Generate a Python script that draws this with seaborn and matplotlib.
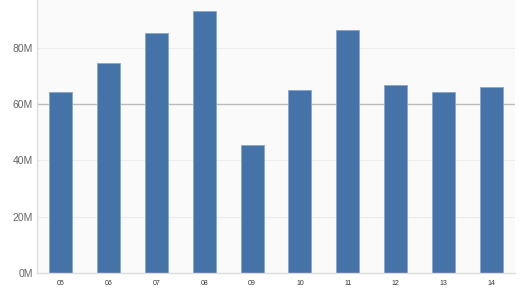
import matplotlib
matplotlib.use("Agg")
import matplotlib.pyplot as plt
import seaborn as sns
import pandas as pd
from matplotlib.ticker import FuncFormatter

categories = ["05", "06", "07", "08", "09", "10", "11", "12", "13", "14"]
values = [64.4, 74.5, 85.2, 93.1, 45.4, 65.0, 86.3, 66.7, 64.4, 66.1]  # millions
y_ticks = [0, 20, 40, 60, 80]

df = pd.DataFrame({"cat": categories, "val": [v * 1e6 for v in values]})

sns.set_theme(style="white")
plt.rcParams['font.family'] = ['Liberation Sans', 'DejaVu Sans']

fig = plt.figure(figsize=(5.2, 2.9), dpi=100)
ax = fig.add_axes([37/520, 17/290, 478/520, 273/290])
ax.set_facecolor("#fafafa")

for t in y_ticks:
    if t != 60:
        ax.axhline(t * 1e6, color="#ececec", lw=0.8, zorder=0)
ax.axhline(60e6, color="#bbbbbb", lw=1.0, zorder=0.5)

sns.barplot(data=df, x="cat", y="val", color="#4572a7", saturation=1,
            width=0.48, edgecolor="#8aa5c9", linewidth=0.6, ax=ax, zorder=2)

ax.set_ylim(0, 97e6)
ax.set_xlim(-0.5, 9.5)
ax.set_yticks([t * 1e6 for t in y_ticks])
ax.yaxis.set_major_formatter(FuncFormatter(lambda v, p: f"{int(round(v/1e6))}M"))
ax.set_xlabel("")
ax.set_ylabel("")
ax.tick_params(axis="y", labelsize=7.5, colors="#666666", length=0, pad=3)
ax.tick_params(axis="x", labelsize=5, colors="#333333", length=0, pad=5)
for s in ["top", "right"]:
    ax.spines[s].set_visible(False)
for s in ["left", "bottom"]:
    ax.spines[s].set_color("#dddddd")
    ax.spines[s].set_linewidth(1.0)

fig.savefig("out.png", dpi=100)
